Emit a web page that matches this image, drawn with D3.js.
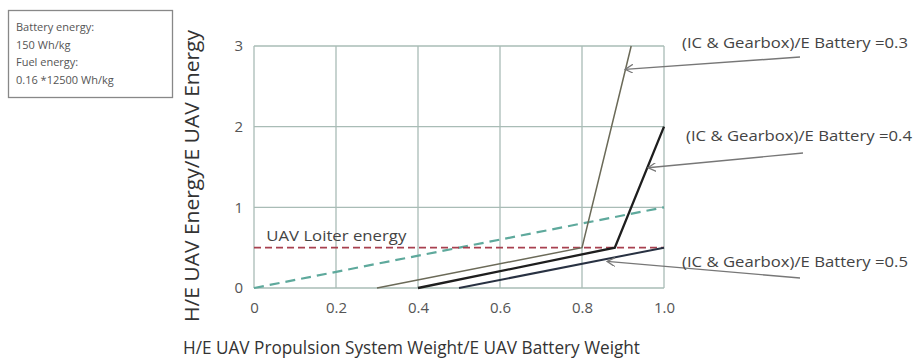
<!DOCTYPE html>
<html>
<head>
<meta charset="utf-8">
<script src="https://cdn.jsdelivr.net/npm/d3@7"></script>
<style>
  body { margin: 0; background: #fff; }
  svg { font-family: "Open Sans", "Noto Sans", sans-serif; }
</style>
</head>
<body>
<div id="chart"></div>
<script>
// ====== H/E UAV energy vs propulsion weight ======

// axis ticks
const xTicks = [0, 0.2, 0.4, 0.6, 0.8, 1.0];
const xTickLabels = ['0', '0.2', '0.4', '0.6', '0.8', '1.0'];
const yTicks = [0, 1, 2, 3];

// (IC & Gearbox)/E Battery curves
const ratio03X = [0.3, 0.8, 0.92];
const ratio03Y = [0, 0.5, 3];
const ratio04X = [0.4, 0.88, 1.0];
const ratio04Y = [0, 0.5, 2];
const ratio05X = [0.5, 1.0];
const ratio05Y = [0, 0.5];

// reference lines
const electricX = [0, 1];
const electricY = [0, 1];
const loiterX = [0, 1];
const loiterY = [0.5, 0.5];

// annotation labels and where their arrows point
const annoLabels = ['(IC & Gearbox)/E Battery =0.3', '(IC & Gearbox)/E Battery =0.4', '(IC & Gearbox)/E Battery =0.5'];
const annoTipX = [0.905, 0.961, 0.861];
const annoTipY = [2.71, 1.49, 0.33];

const infoLines = ['Battery energy:', '150 Wh/kg', 'Fuel energy:', '0.16 *12500 Wh/kg'];

let width = 916, height = 360;
let margin = {top: 46, left: 254, right: 252, bottom: 72};

let svg = d3.select('#chart').append('svg')
    .attr('width', width)
    .attr('height', height);

let x = d3.scaleLinear().domain([0, 1]).range([margin.left, width - margin.right]);
let y = d3.scaleLinear().domain([0, 3]).range([height - margin.bottom, margin.top]);

// open arrow head, pointing along the line at its end
svg.append('defs').append('marker')
    .attr('id', 'head')
    .attr('viewBox', '0 0 10 10')
    .attr('refX', 9).attr('refY', 5)
    .attr('markerWidth', 9).attr('markerHeight', 9)
    .attr('markerUnits', 'userSpaceOnUse')
    .attr('orient', 'auto')
  .append('path')
    .attr('d', 'M0,0 L9,5 L0,10')
    .attr('fill', 'none')
    .attr('stroke', '#777')
    .attr('stroke-width', 1.4);

// Grid:
let grid = svg.append('g').attr('class', 'grid');
grid.selectAll('.vgrid')
    .data(xTicks)
  .enter().append('line')
    .attr('x1', d => x(d)).attr('x2', d => x(d))
    .attr('y1', y(0)).attr('y2', y(3))
    .attr('stroke', '#a9bcb6').attr('stroke-width', 1.3);
grid.selectAll('.hgrid')
    .data(yTicks)
  .enter().append('line')
    .attr('x1', x(0)).attr('x2', x(1))
    .attr('y1', d => y(d)).attr('y2', d => y(d))
    .attr('stroke', '#a9bcb6').attr('stroke-width', 1.3);

// Axes (labels only, the grid does the lines):
let xAxis = d3.axisBottom(x).tickValues(xTicks)
    .tickFormat((d, i) => xTickLabels[i]).tickSize(0).tickPadding(14);
svg.append('g')
    .attr('transform', 'translate(0,' + y(0) + ')')
    .call(xAxis)
    .call(g => g.select('.domain').remove())
    .selectAll('text')
    .attr('font-size', 15).attr('fill', '#555').attr('font-family', '"Open Sans", sans-serif');

let yAxis = d3.axisLeft(y).tickValues(yTicks).tickFormat(d3.format('d')).tickSize(0).tickPadding(11);
svg.append('g')
    .attr('transform', 'translate(' + x(0) + ',0)')
    .call(yAxis)
    .call(g => g.select('.domain').remove())
    .selectAll('text')
    .attr('font-size', 15).attr('fill', '#555').attr('font-family', '"Open Sans", sans-serif');

// Lines:
let line = d3.line().x(d => x(d[0])).y(d => y(d[1]));
function pts(xs, ys) { return xs.map((v, i) => [v, ys[i]]); }

svg.append('path').datum(pts(electricX, electricY))
    .attr('d', line).attr('fill', 'none')
    .attr('stroke', '#5ea99c').attr('stroke-width', 2.2)
    .attr('stroke-dasharray', '10,6');

svg.append('path').datum(pts(loiterX, loiterY))
    .attr('d', line).attr('fill', 'none')
    .attr('stroke', '#a8404f').attr('stroke-width', 1.6)
    .attr('stroke-dasharray', '7,4');

svg.append('text')
    .attr('x', x(0.03)).attr('y', y(0.5) - 7)
    .attr('font-size', 15).attr('fill', '#444')
    .attr('textLength', 140).attr('lengthAdjust', 'spacingAndGlyphs')
    .text('UAV Loiter energy');

svg.append('path').datum(pts(ratio03X, ratio03Y))
    .attr('d', line).attr('fill', 'none')
    .attr('stroke', '#6b6a58').attr('stroke-width', 1.5);

svg.append('path').datum(pts(ratio04X, ratio04Y))
    .attr('d', line).attr('fill', 'none')
    .attr('stroke', '#1e1e1e').attr('stroke-width', 2.3);

svg.append('path').datum(pts(ratio05X, ratio05Y))
    .attr('d', line).attr('fill', 'none')
    .attr('stroke', '#283142').attr('stroke-width', 2);

// Annotations:
let tailX = [800, 803, 800];
let tailY = [57, 153, 278];
let labelY = [43, 136, 262];
let labelX = [682, 686, 682];
annoLabels.forEach(function(lbl, i) {
    svg.append('line')
        .attr('x1', tailX[i]).attr('y1', tailY[i])
        .attr('x2', x(annoTipX[i])).attr('y2', y(annoTipY[i]))
        .attr('stroke', '#777').attr('stroke-width', 1.4)
        .attr('marker-end', 'url(#head)');
    svg.append('text')
        .attr('x', labelX[i]).attr('y', labelY[i])
        .attr('dy', '0.35em')
        .attr('font-size', 15).attr('fill', '#444')
        .attr('textLength', 226).attr('lengthAdjust', 'spacingAndGlyphs')
        .text(lbl);
});

// Axis titles:
svg.append('text')
    .attr('transform', 'translate(199,176) rotate(-90)')
    .attr('text-anchor', 'middle')
    .attr('font-size', 20).attr('fill', '#333')
    .attr('textLength', 292).attr('lengthAdjust', 'spacingAndGlyphs')
    .text('H/E UAV Energy/E UAV Energy');

svg.append('text')
    .attr('x', 183).attr('y', 354)
    .attr('font-size', 19).attr('fill', '#333')
    .attr('textLength', 457).attr('lengthAdjust', 'spacingAndGlyphs')
    .text('H/E UAV Propulsion System Weight/E UAV Battery Weight');

// Info box:
svg.append('rect')
    .attr('x', 8.5).attr('y', 10.5).attr('width', 164).attr('height', 87)
    .attr('fill', '#fff').attr('stroke', '#888').attr('stroke-width', 1.3);
svg.selectAll('.info')
    .data(infoLines)
  .enter().append('text')
    .attr('class', 'info')
    .attr('x', 16)
    .attr('y', (d, i) => 31 + i * 17.5)
    .attr('font-size', 11).attr('fill', '#555')
    .text(d => d);
</script>
</body>
</html>
